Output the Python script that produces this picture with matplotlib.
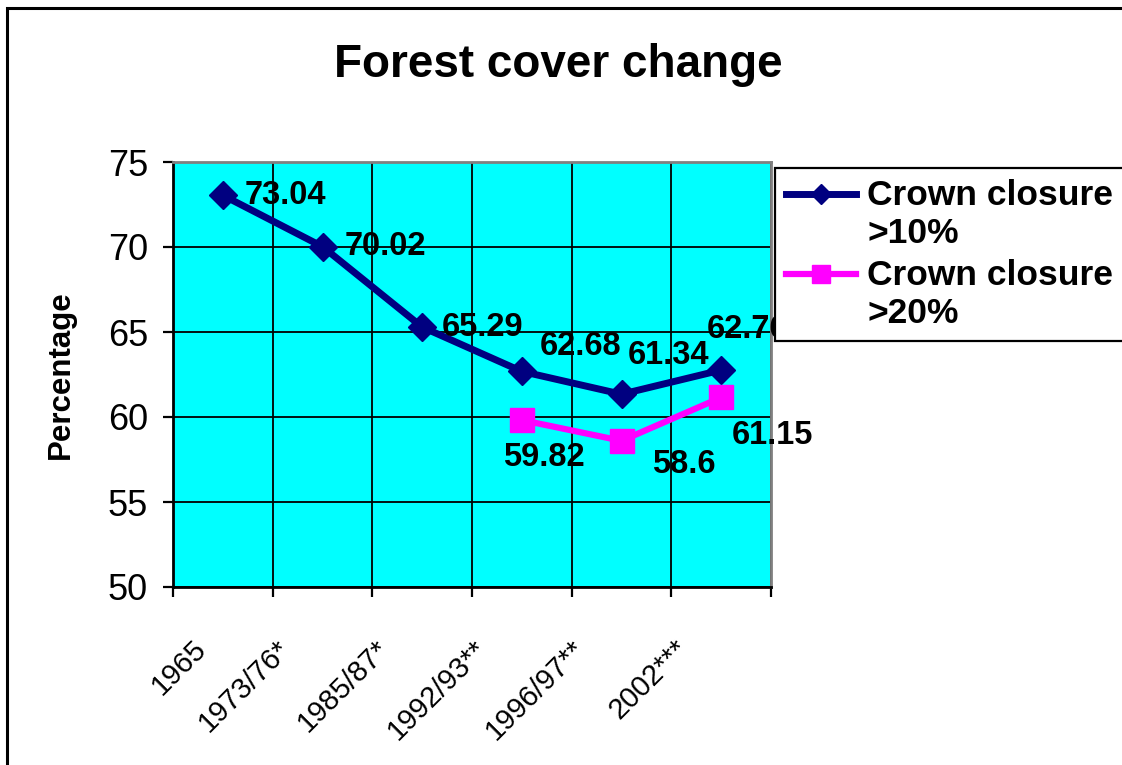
import numpy as np
import matplotlib
matplotlib.use('Agg')
import matplotlib.pyplot as plt
from matplotlib.legend_handler import HandlerLine2D
from matplotlib.patches import Rectangle

plt.rcParams['font.family'] = ['Liberation Sans', 'DejaVu Sans']

periods = ['1965', '1973/76*', '1985/87*', '1992/93**', '1996/97**', '2002***']
closure_10 = [73.04, 70.02, 65.29, 62.68, 61.34, 62.76]
periods_20 = ['1992/93**', '1996/97**', '2002***']
closure_20 = [59.82, 58.6, 61.15]

# label offsets in pixels (Excel put them in odd places)
off_10 = [(22, 0), (22, 0), (20, 0), (18, 25), (6, 39), (-14, 41)]
off_20 = [(-19, -37), (31, -24), (11, -38)]
tick_dx = [-31, -47, -47, -49, -51, -47]
tick_dy = -48

NAVY = '#000080'
PINK = '#FF00FF'


class FirstLineHandler(HandlerLine2D):
    # put the legend line next to the first line of a two-line label
    def create_artists(self, legend, orig_handle, xdescent, ydescent,
                       width, height, fontsize, trans):
        artists = super().create_artists(legend, orig_handle, xdescent, ydescent,
                                         width, height, fontsize, trans)
        for a in artists:
            x, y = a.get_data()
            a.set_data(x, np.asarray(y, dtype=float) + 0.6 * fontsize)
        return artists


fig = plt.figure(figsize=(11.22, 7.65), dpi=100)
fig.add_artist(Rectangle((7 / 1122, -0.2), 1.2, 0.2 + 1 - 8 / 765,
                         transform=fig.transFigure, fill=False,
                         edgecolor='black', linewidth=2.2))

ax = fig.add_axes([173 / 1122, 1 - 587 / 765, 598 / 1122, 425 / 765])
ax.set_facecolor('#00FFFF')

x10 = np.arange(len(periods))
x20 = np.array([periods.index(p) for p in periods_20])

l10, = ax.plot(x10, closure_10, color=NAVY, lw=5, marker='D', ms=14,
               mec=NAVY, zorder=3, clip_on=False, label='Crown closure\n>10%')
l20, = ax.plot(x20, closure_20, color=PINK, lw=4.5, marker='s', ms=17,
               mec=PINK, zorder=3, clip_on=False, label='Crown closure\n>20%')

for xi, v, off in zip(x10, closure_10, off_10):
    ax.annotate(f'{v:g}', (xi, v), xytext=off, textcoords='offset pixels',
                ha='left', va='center', fontsize=23.5, fontweight='bold', zorder=4)
for xi, v, off in zip(x20, closure_20, off_20):
    ax.annotate(f'{v:g}', (xi, v), xytext=off, textcoords='offset pixels',
                ha='left', va='center', fontsize=23.5, fontweight='bold', zorder=4)

ax.set_xlim(-0.5, len(periods) - 0.5)
ax.set_ylim(50, 75)
ax.set_yticks(np.arange(50, 76, 5))
ax.set_xticks(x10)
ax.set_xticklabels([])
ax.set_xticks(np.arange(-0.5, len(periods), 1), minor=True)
ax.tick_params(axis='x', which='major', length=0)
ax.tick_params(axis='x', which='minor', length=7, width=1.6, direction='out')
ax.tick_params(axis='y', which='major', length=7, width=1.6, direction='out',
               labelsize=26, pad=11)
ax.grid(axis='x', which='minor', color='black', lw=1.3)
ax.grid(axis='y', which='major', color='black', lw=1.3)

for xi, p, dx in zip(x10, periods, tick_dx):
    ax.annotate(p, (xi, 0), xycoords=ax.get_xaxis_transform(),
                xytext=(dx, tick_dy), textcoords='offset pixels',
                rotation=45, rotation_mode='anchor', ha='right', va='top',
                fontsize=21, annotation_clip=False)

for s in ['left', 'bottom']:
    ax.spines[s].set_color('black')
    ax.spines[s].set_linewidth(2)
for s in ['top', 'right']:
    ax.spines[s].set_color('#808080')
    ax.spines[s].set_linewidth(2)

ax.set_ylabel('Percentage', fontsize=22.5, fontweight='bold')
ax.yaxis.set_label_coords(-0.162, 0.5)

fig.text(558 / 1122, 1 - 65 / 765, 'Forest cover change', ha='center', va='center',
         fontsize=33, fontweight='bold')

leg = fig.legend(handles=[l10, l20], loc='upper left',
                 bbox_to_anchor=(775 / 1122, 1 - 168 / 765),
                 bbox_transform=fig.transFigure, borderaxespad=0,
                 prop={'size': 25.5, 'weight': 'bold'}, fancybox=False,
                 edgecolor='black', framealpha=1, handlelength=2.0,
                 handletextpad=0.3, borderpad=0.3, labelspacing=0.25,
                 markerscale=0.75,
                 handler_map={l10: FirstLineHandler(), l20: FirstLineHandler()})
leg.get_frame().set_linewidth(1.6)

fig.savefig('out.png', dpi=100)
